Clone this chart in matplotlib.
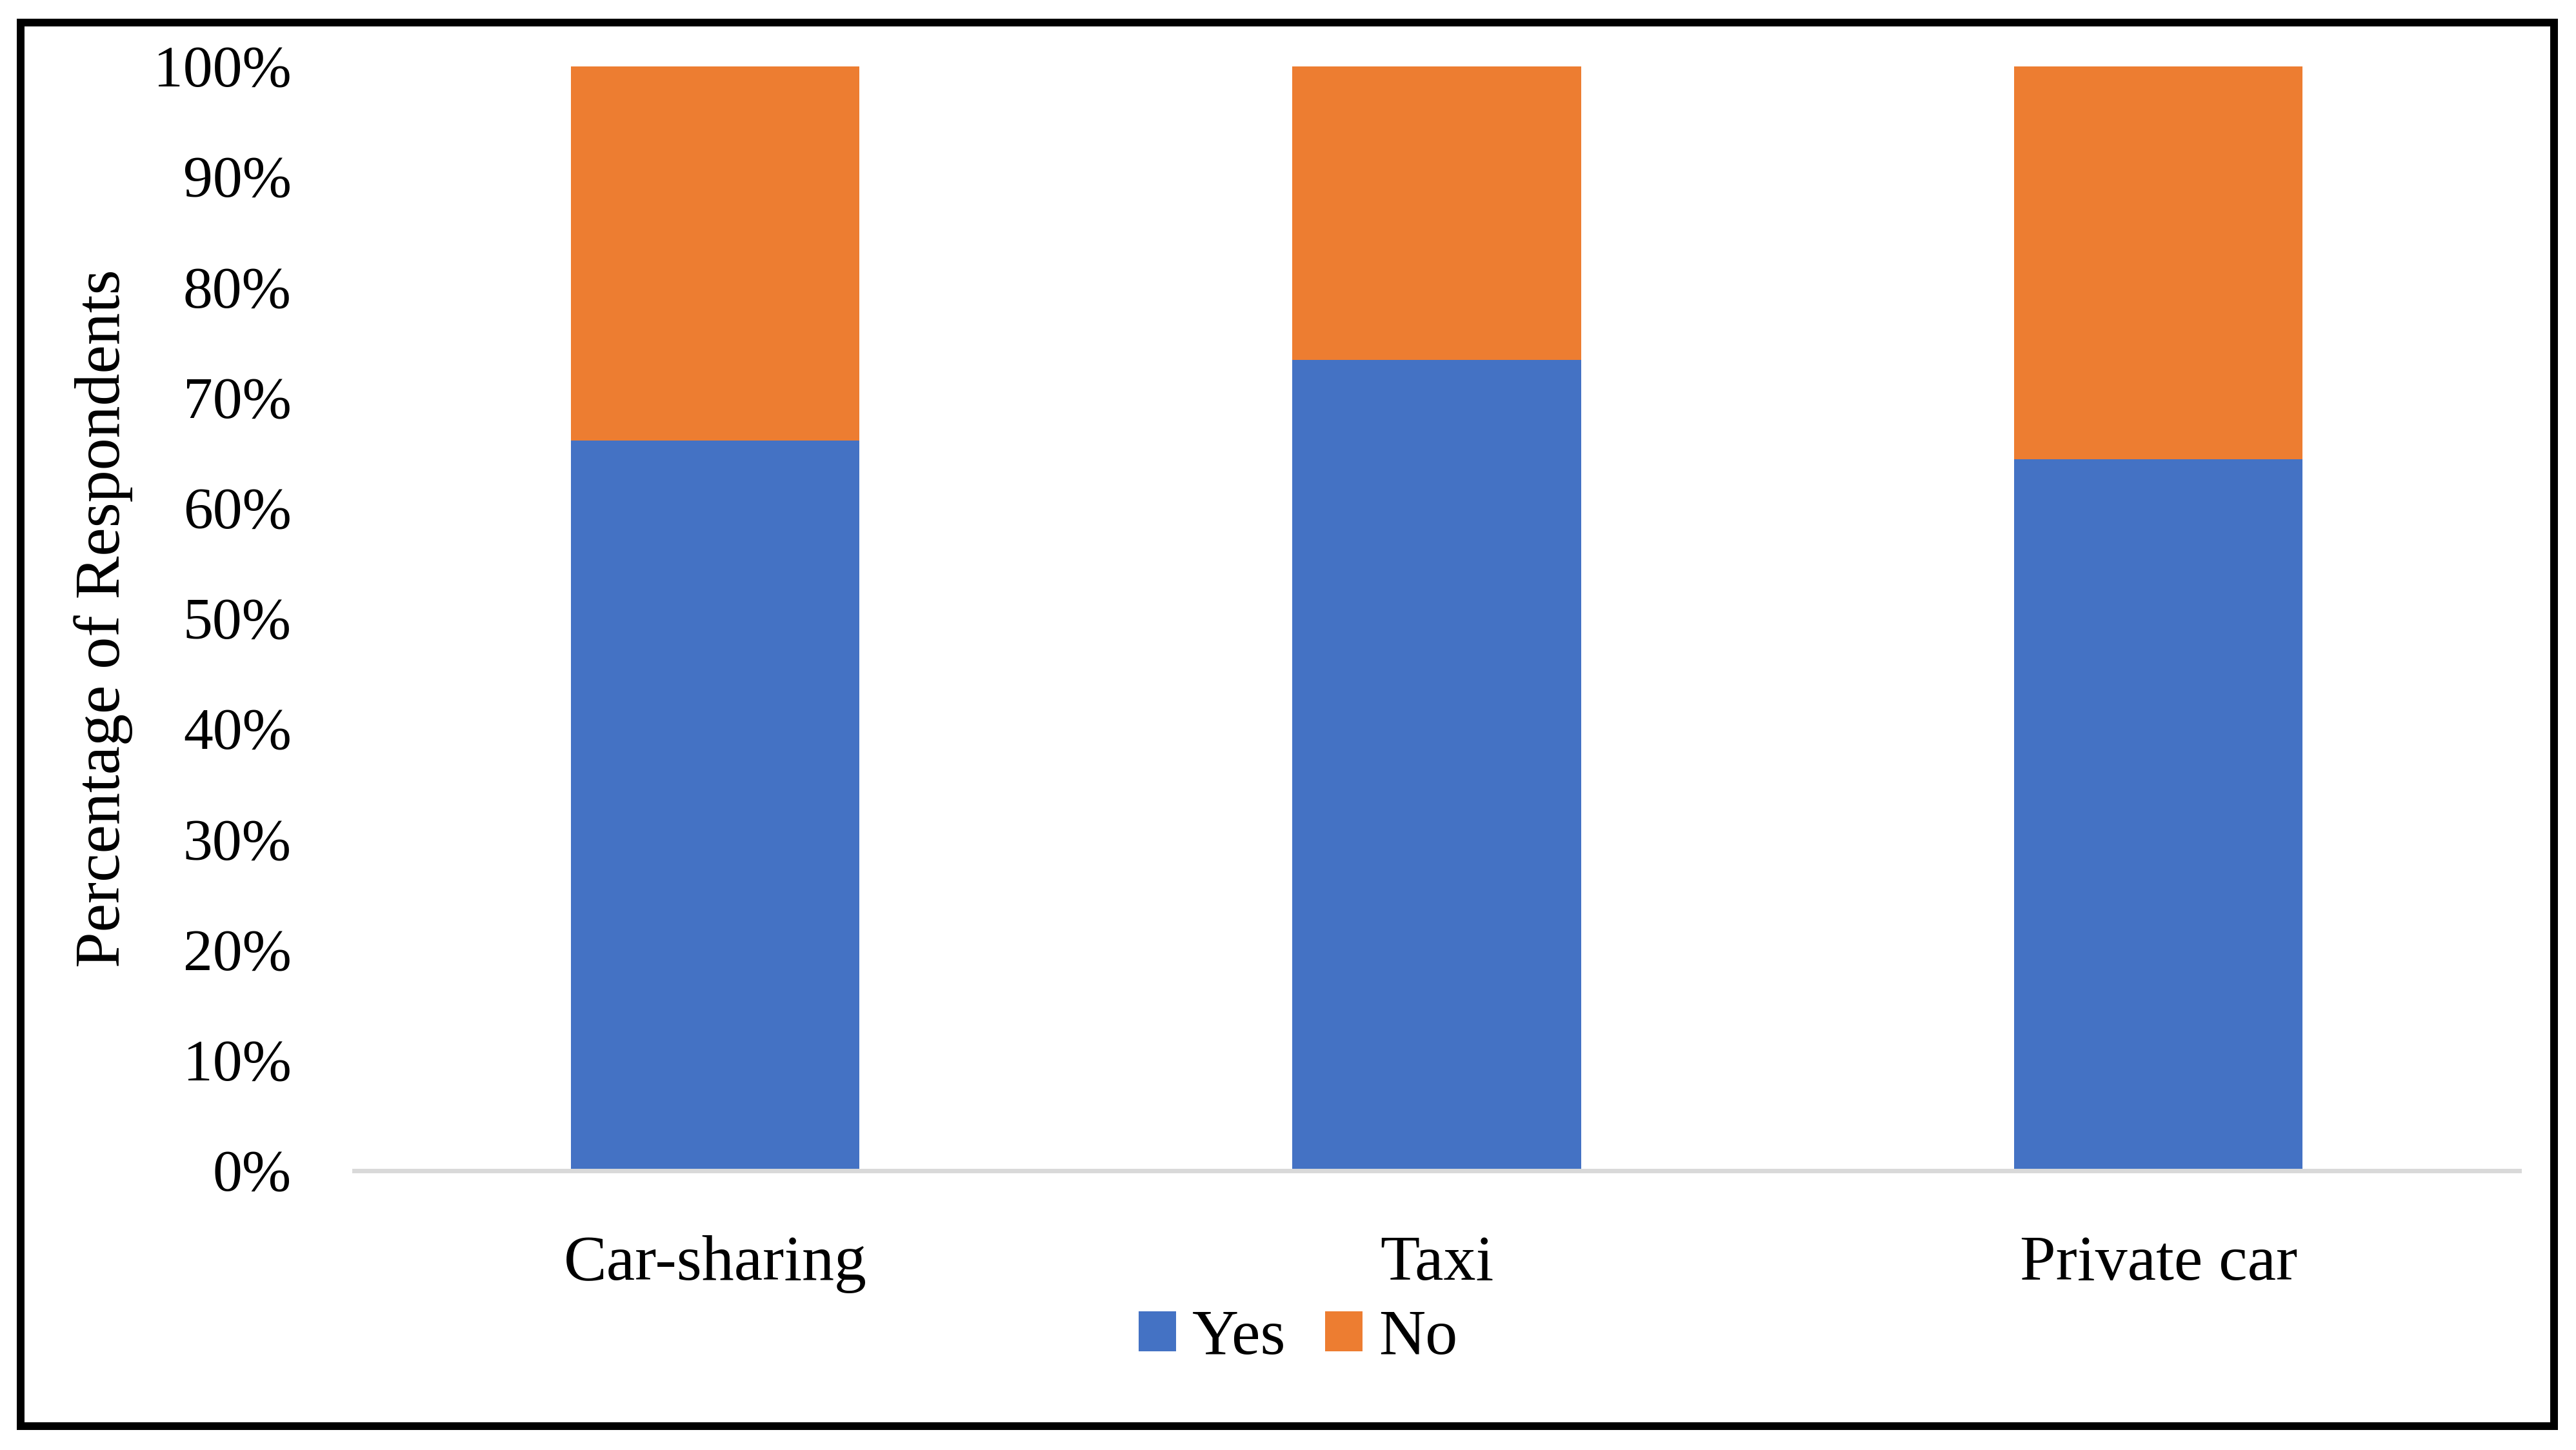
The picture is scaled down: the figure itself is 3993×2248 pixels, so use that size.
import matplotlib
matplotlib.use("Agg")
import matplotlib.pyplot as plt
from matplotlib.patches import Rectangle
from matplotlib.ticker import PercentFormatter

# data (percent of respondents)
modes = ["Car-sharing", "Taxi", "Private car"]
yes = [66.1, 73.4, 64.4]
no = [100 - v for v in yes]
yticks = list(range(0, 101, 10))

blue = "#4472C4"
orange = "#ED7D31"

plt.rcParams["font.family"] = ["Liberation Serif", "DejaVu Serif"]

W, H = 3993, 2248
fig = plt.figure(figsize=(W / 100, H / 100), dpi=100)
ax = fig.add_axes([549 / W, 1 - 1815 / H, (3905 - 549) / W, (1815 - 103) / H])

x = range(len(modes))
ax.bar(x, yes, width=0.4, color=blue, label="Yes")
ax.bar(x, no, width=0.4, bottom=yes, color=orange, label="No")

ax.set_xlim(-0.5, len(modes) - 0.5)
ax.set_ylim(0, 100)
ax.set_yticks(yticks)
ax.yaxis.set_major_formatter(PercentFormatter(decimals=0))
ax.set_xticks(list(x))
ax.set_xticklabels(modes)

for s in ["top", "right", "left"]:
    ax.spines[s].set_visible(False)
ax.spines["bottom"].set_color("#D9D9D9")
ax.spines["bottom"].set_linewidth(5)

ax.tick_params(axis="y", length=0, pad=70, labelsize=66)
ax.tick_params(axis="x", length=0, pad=72, labelsize=72)

fig.text(160 / W, 1 - 959 / H, "Percentage of Respondents", rotation=90,
         ha="center", va="center", fontsize=72)

fig.legend(loc="center", bbox_to_anchor=(2012 / W, 1 - 2075 / H), ncol=2,
           frameon=False, fontsize=72, handlelength=0.58, handleheight=0.58,
           handletextpad=0.25, columnspacing=0.6, borderpad=0)

# black frame around the whole chart
fig.patches.append(Rectangle((31.5 / W, 1 - 2211 / H), (3959 - 31.5) / W,
                             (2211 - 35) / H, transform=fig.transFigure,
                             fill=False, edgecolor="black", linewidth=8.6))

fig.savefig("out.png", dpi=100)
